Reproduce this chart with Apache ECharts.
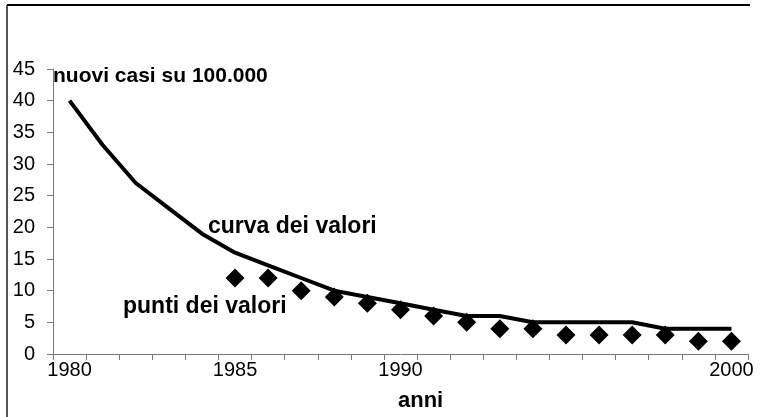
<!DOCTYPE html>
<html>
<head>
<meta charset="UTF-8">
<title>nuovi casi</title>
<script src="https://cdn.jsdelivr.net/npm/echarts@6/dist/echarts.min.js"></script>
<style>
  body { margin: 0; background: #fff; }
  #main { width: 760px; height: 417px; }
</style>
</head>
<body>
<div id="main"></div>
<script type="text/javascript">
// anni (categorie)
var anni = ['1980','1981','1982','1983','1984','1985','1986','1987','1988','1989','1990',
            '1991','1992','1993','1994','1995','1996','1997','1998','1999','2000'];
// curva dei valori
var curva = [40, 33, 27, 23, 19, 16, 14, 12, 10, 9, 8, 7, 6, 6, 5, 5, 5, 5, 4, 4, 4];
// punti dei valori (dal 1985)
var punti = [null, null, null, null, null, 12, 12, 10, 9, 8, 7, 6, 5, 4, 4, 3, 3, 3, 3, 2, 2];
// etichette visibili sull'asse x
var etichetteX = ['1980', '1985', '1990', '2000'];

var myChart = echarts.init(document.getElementById('main'));
var font = '"Liberation Sans", Arial, sans-serif';

var option = {
  animation: false,
  grid: { top: 69, bottom: 63, left: 53, right: 12 },
  xAxis: {
    type: 'category',
    data: anni,
    boundaryGap: true,
    axisLine: { lineStyle: { color: '#777', width: 1 } },
    axisTick: { show: true, interval: 0, length: 6, lineStyle: { color: '#777' } },
    axisLabel: {
      interval: function (i, v) { return etichetteX.indexOf(v) >= 0; },
      color: '#000', fontSize: 20, fontFamily: font, margin: 6
    },
    splitLine: { show: false }
  },
  yAxis: {
    type: 'value',
    min: 0, max: 45, interval: 5,
    axisLine: { show: true, lineStyle: { color: '#777', width: 1 } },
    axisTick: { show: true, length: 6, lineStyle: { color: '#777' } },
    axisLabel: { color: '#000', fontSize: 20, fontFamily: font, margin: 18 },
    splitLine: { show: false }
  },
  series: [
    {
      name: 'curva dei valori',
      type: 'line',
      data: curva,
      symbol: 'none',
      lineStyle: { color: '#000', width: 4 }
    },
    {
      name: 'punti dei valori',
      type: 'scatter',
      data: punti,
      symbol: 'diamond',
      symbolSize: 19,
      itemStyle: { color: '#000', opacity: 1 }
    }
  ],
  graphic: {
    elements: [
      { type: 'line', shape: { x1: 7, y1: 5, x2: 7, y2: 417 }, style: { stroke: '#555', lineWidth: 2 } },
      { type: 'line', shape: { x1: 7, y1: 5, x2: 750, y2: 5 }, style: { stroke: '#000', lineWidth: 2 } },
      { type: 'text', left: 53, top: 66, style: { text: 'nuovi casi su 100.000', font: 'bold 21px ' + font, fill: '#000' } },
      { type: 'text', left: 208, top: 215, style: { text: 'curva dei valori', font: 'bold 23px ' + font, fill: '#000' } },
      { type: 'text', left: 123, top: 295, style: { text: 'punti dei valori', font: 'bold 23px ' + font, fill: '#000' } },
      { type: 'text', left: 398, top: 390, style: { text: 'anni', font: 'bold 22px ' + font, fill: '#000' } }
    ]
  }
};

myChart.setOption(option);
</script>
</body>
</html>
